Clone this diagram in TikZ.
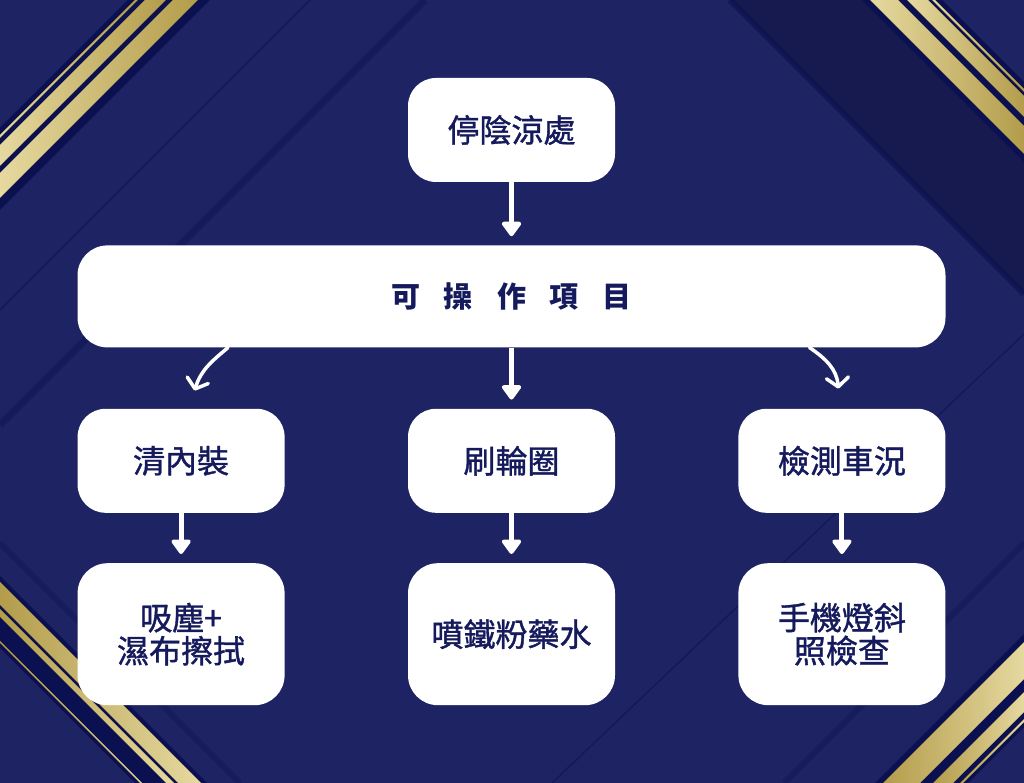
\documentclass[tikz,border=0pt]{standalone}
\usepackage{fontspec}
\newfontfamily\cjk[FakeBold=1.2]{Noto Sans CJK TC}
\newfontfamily\cjkhead{Noto Sans CJK TC}
\usetikzlibrary{positioning,arrows.meta}

\definecolor{bgnavy}{HTML}{1E2463}
\definecolor{darknavy}{HTML}{171A4F}
\definecolor{shadenavy}{HTML}{0B1150}
\definecolor{textnavy}{HTML}{141A5C}
\definecolor{golddark}{HTML}{B39C4B}
\definecolor{goldlight}{HTML}{E6D9A0}

\begin{document}
\begin{tikzpicture}[x=1pt,y=1pt,>={Triangle[length=16pt,width=22pt,round]},
                    node distance=60pt,
                    box/.style={fill=white,rounded corners=28pt,inner sep=0pt,
                      minimum width=207pt,minimum height=104pt,align=center,
                      text=textnavy,font=\cjk\fontsize{32}{33}\selectfont},
                    tallbox/.style={box,minimum height=142pt,rounded corners=30pt},
                    widebox/.style={box,minimum width=868pt,minimum height=102pt,
                      rounded corners=30pt,font=\cjkhead\bfseries\fontsize{29}{31}\selectfont},
                    flow/.style={draw=white,line width=5pt,->,shorten >=9pt},
                    curvearrow/.style={draw=white,line width=3.5pt,line cap=round,
                      -{Straight Barb[length=9pt,width=22pt,round]}},
                    goldl/.style={left color=goldlight,right color=golddark},
                    goldr/.style={left color=golddark,right color=goldlight}]

  % background
  \useasboundingbox (0,0) rectangle (1024,783);
  \begin{scope}
    \clip (0,0) rectangle (1024,783);
    \fill[bgnavy] (0,0) rectangle (1024,783);
    % dark band top right
    \fill[darknavy] (730,783) -- (870,783) -- (1024,629) -- (1024,489) -- cycle;
    \draw[shadenavy,line width=6pt,opacity=.6] (730,783) -- (1024,489);
    % soft lines
    \draw[shadenavy,line width=1.2pt,opacity=.7] (310,783) -- (0,473);
    \draw[shadenavy,line width=7pt,opacity=.45] (425,783) -- (0,358);
    \draw[shadenavy,line width=1.2pt,opacity=.6] (1024,449) -- (552,0);
    \draw[shadenavy,line width=6pt,opacity=.35] (1024,240) -- (784,0);
    \draw[shadenavy,line width=6pt,opacity=.35] (0,240) -- (240,0);
    % gold top left
    \fill[shadenavy] (128,783) -- (210,783) -- (0,573) -- (0,655) -- cycle;
    \fill[goldl] (135,783) -- (138,783) -- (0,645) -- (0,648) -- cycle;
    \fill[goldl] (145,783) -- (166,783) -- (0,617) -- (0,638) -- cycle;
    \fill[goldl] (173,783) -- (198,783) -- (0,585) -- (0,610) -- cycle;
    % gold top right
    \fill[shadenavy] (862,783) -- (942,783) -- (1024,701) -- (1024,621) -- cycle;
    \fill[goldl] (870,783) -- (898,783) -- (1024,657) -- (1024,629) -- cycle;
    \fill[goldl] (907,783) -- (928,783) -- (1024,687) -- (1024,666) -- cycle;
    \fill[goldl] (932,783) -- (935,783) -- (1024,694) -- (1024,691) -- cycle;
    % gold bottom right
    \fill[shadenavy] (875,0) -- (968,0) -- (1024,56) -- (1024,149) -- cycle;
    \fill[goldr] (883,0) -- (920,0) -- (1024,104) -- (1024,141) -- cycle;
    \fill[goldr] (933,0) -- (953,0) -- (1024,71) -- (1024,91) -- cycle;
    \fill[goldr] (960,0) -- (963,0) -- (1024,61) -- (1024,64) -- cycle;
    % gold bottom left
    \fill[shadenavy] (0,207) -- (0,135) -- (135,0) -- (207,0) -- cycle;
    \fill[goldr] (0,201) -- (0,178) -- (178,0) -- (201,0) -- cycle;
    \fill[goldr] (0,174) -- (0,166) -- (166,0) -- (174,0) -- cycle;
    \fill[goldr] (0,142) -- (0,140) -- (140,0) -- (142,0) -- cycle;
  \end{scope}

  % nodes
  \node[box] (stop) at (511.5,653) {停陰涼處};
  \node[widebox] (items) [below=63pt of stop]
    {可\hspace{24pt}操\hspace{24pt}作\hspace{24pt}項\hspace{24pt}目};
  \node[box] (rim) [below=61pt of items] {刷輪圈};
  \node[box] (inner) [left=123pt of rim] {清內裝};
  \node[box] (check) [right=123pt of rim] {檢測車況};
  \node[tallbox] (wipe) [below=50pt of inner] {吸塵+\\濕布擦拭};
  \node[tallbox] (spray) [below=50pt of rim] {噴鐵粉藥水};
  \node[tallbox] (light) [below=50pt of check] {手機燈斜\\照檢查};

  % arrows
  \draw[flow] (stop) -- (items);
  \draw[flow] (items) -- (rim);
  \draw[flow] (inner) -- (wipe);
  \draw[flow] (rim) -- (spray);
  \draw[flow] (check) -- (light);
  \draw[curvearrow] ([xshift=-283.5pt]items.south) to[out=220,in=73]
    ([xshift=13.5pt,yshift=18pt]inner.north);
  \draw[curvearrow] ([xshift=298pt]items.south) to[out=-34,in=95]
    ([xshift=-3.5pt,yshift=20pt]check.north);

\end{tikzpicture}
\end{document}
